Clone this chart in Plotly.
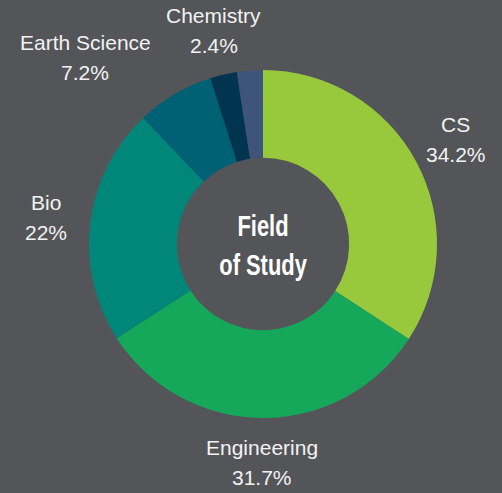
import math
import plotly.graph_objects as go

# ---- data ----
fields = ["CS", "Engineering", "Bio", "Earth Science", "Physics", "Chemistry"]
shares = [34.2, 31.7, 22.0, 7.2, 2.5, 2.4]
pct_labels = ["34.2%", "31.7%", "22%", "7.2%", "", "2.4%"]
show_label = [True, True, True, True, False, True]
colors = ["#98C93C", "#16A85A", "#00877A", "#006074", "#00344F", "#3F5479"]

BG = "#545559"
W, H = 502, 493
ML, MR, MT, MB = 89, 65, 70, 75
PW, PH = W - ML - MR, H - MT - MB
CX, CY = ML + PW / 2, MT + PH / 2

# label placement tweaks (radius px, angle shift deg) for crowded slices
label_radius = {"Earth Science": 258}
label_shift = {"Earth Science": -13.0, "Chemistry": -8.7}

fig = go.Figure(go.Pie(
    labels=fields, values=shares, sort=False, direction="clockwise", rotation=0,
    hole=0.495, marker=dict(colors=colors, line=dict(width=0)),
    textinfo="none", hoverinfo="skip", showlegend=False,
    domain=dict(x=[0, 1], y=[0, 1]),
))

def to_paper(px, py):
    return (px - ML) / PW, (MT + PH - py) / PH

annotations = []
total = sum(shares)
cum = 0.0
for name, v, pct, show in zip(fields, shares, pct_labels, show_label):
    mid = (cum + v / 2) / total * 360.0
    cum += v
    if not show:
        continue
    ang = math.radians(mid + label_shift.get(name, 0.0))
    r = label_radius.get(name, 219)
    px = CX + r * math.sin(ang)
    py = CY - r * math.cos(ang)
    for txt, dy in ((name, -15), (pct, 15)):
        x, y = to_paper(px, py + dy)
        annotations.append(dict(
            x=x, y=y, xref="paper", yref="paper", text=txt, showarrow=False,
            xanchor="center", yanchor="middle",
            font=dict(family="Liberation Sans, Arial, sans-serif", size=21, color="#F2F2F2"),
        ))

for txt, dy in (("Field", -19), ("of Study", 20)):
    x, y = to_paper(CX, CY + dy)
    annotations.append(dict(
        x=x, y=y, xref="paper", yref="paper", text="<b>" + txt + "</b>", showarrow=False,
        xanchor="center", yanchor="middle", name="center-title",
        font=dict(family="Liberation Sans, Arial, sans-serif", size=30, color="#FFFFFF"),
    ))

fig.update_layout(
    width=W, height=H, paper_bgcolor=BG, plot_bgcolor=BG,
    margin=dict(l=ML, r=MR, t=MT, b=MB, autoexpand=False),
    annotations=annotations,
)

post = """
document.body.style.margin = '0';
document.body.style.background = '%s';
var texts = document.querySelectorAll('.annotation-text');
texts.forEach(function (t) {
  var s = t.textContent;
  if (s === 'Field' || s === 'of Study') {
    t.style.transformBox = 'fill-box';
    t.style.transformOrigin = 'center';
    t.style.transform = 'scaleX(0.73)';
  }
});
""" % BG

fig.write_html("out.html", post_script=post, config={"displayModeBar": False})
